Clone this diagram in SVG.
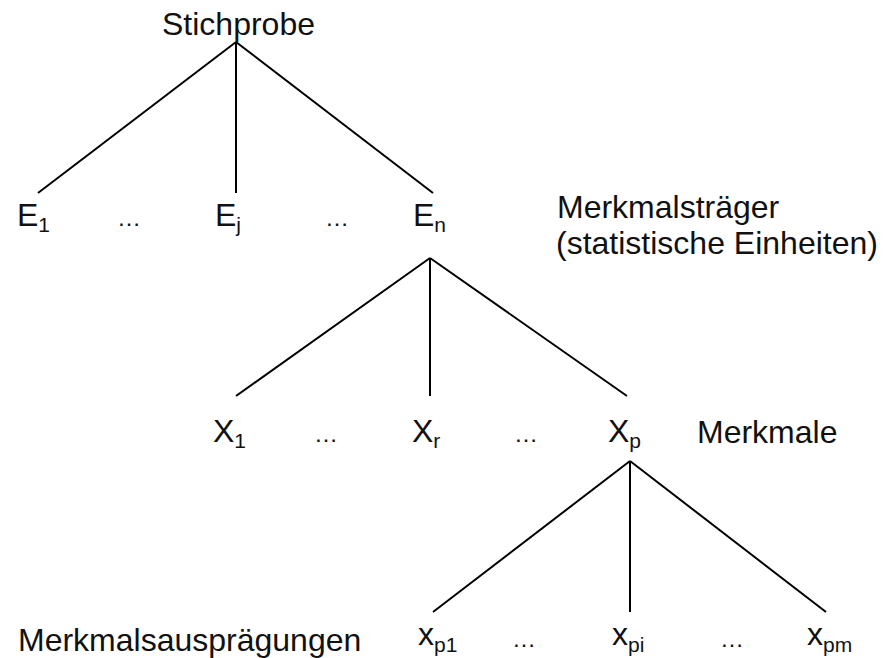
<svg xmlns="http://www.w3.org/2000/svg" width="887" height="658" viewBox="0 0 887 658">
<style>
text{font-family:"Liberation Sans",Arial,sans-serif;font-size:32px;fill:#111}
.sub{font-size:21px}
.dots{font-size:24px}
.edge{stroke:#000;stroke-width:2;fill:none}
</style>
<rect width="887" height="658" fill="#fff"/>
<g id="connectors">
<line class="edge" x1="236" y1="42" x2="38" y2="193"/>
<line class="edge" x1="236" y1="42" x2="236" y2="193"/>
<line class="edge" x1="236" y1="42" x2="433" y2="193"/>
<line class="edge" x1="430" y1="258" x2="236" y2="396"/>
<line class="edge" x1="430" y1="258" x2="430" y2="396"/>
<line class="edge" x1="430" y1="258" x2="627" y2="396"/>
<line class="edge" x1="630" y1="461" x2="433" y2="612"/>
<line class="edge" x1="630" y1="461" x2="630" y2="612"/>
<line class="edge" x1="630" y1="461" x2="826" y2="612"/>
</g>
<g id="stichprobe"><text x="162" y="35">Stichprobe</text></g>
<g id="E1"><text x="17" y="226">E<tspan class="sub" dy="6">1</tspan></text></g>
<g id="dotsE1"><text class="dots" x="117" y="226">…</text></g>
<g id="Ej"><text x="215" y="226">E<tspan class="sub" dy="6">j</tspan></text></g>
<g id="dotsE2"><text class="dots" x="325" y="226">…</text></g>
<g id="En"><text x="413" y="226">E<tspan class="sub" dy="6">n</tspan></text></g>
<g id="merkmalstraeger"><text x="557" y="218">Merkmalsträger</text><text x="556" y="254">(statistische Einheiten)</text></g>
<g id="X1"><text x="213" y="442">X<tspan class="sub" dy="6">1</tspan></text></g>
<g id="dotsX1"><text class="dots" x="314" y="442">…</text></g>
<g id="Xr"><text x="412" y="442">X<tspan class="sub" dy="6">r</tspan></text></g>
<g id="dotsX2"><text class="dots" x="514" y="442">…</text></g>
<g id="Xp"><text x="608" y="442">X<tspan class="sub" dy="6">p</tspan></text></g>
<g id="merkmale"><text x="697" y="443">Merkmale</text></g>
<g id="auspraegungen"><text x="18" y="651">Merkmalsausprägungen</text></g>
<g id="xp1"><text x="418" y="645">x<tspan class="sub" dy="7">p1</tspan></text></g>
<g id="dotsx1"><text class="dots" x="512" y="647">…</text></g>
<g id="xpi"><text x="612" y="645">x<tspan class="sub" dy="7">pi</tspan></text></g>
<g id="dotsx2"><text class="dots" x="720" y="647">…</text></g>
<g id="xpm"><text x="807" y="645">x<tspan class="sub" dy="7">pm</tspan></text></g>
</svg>
